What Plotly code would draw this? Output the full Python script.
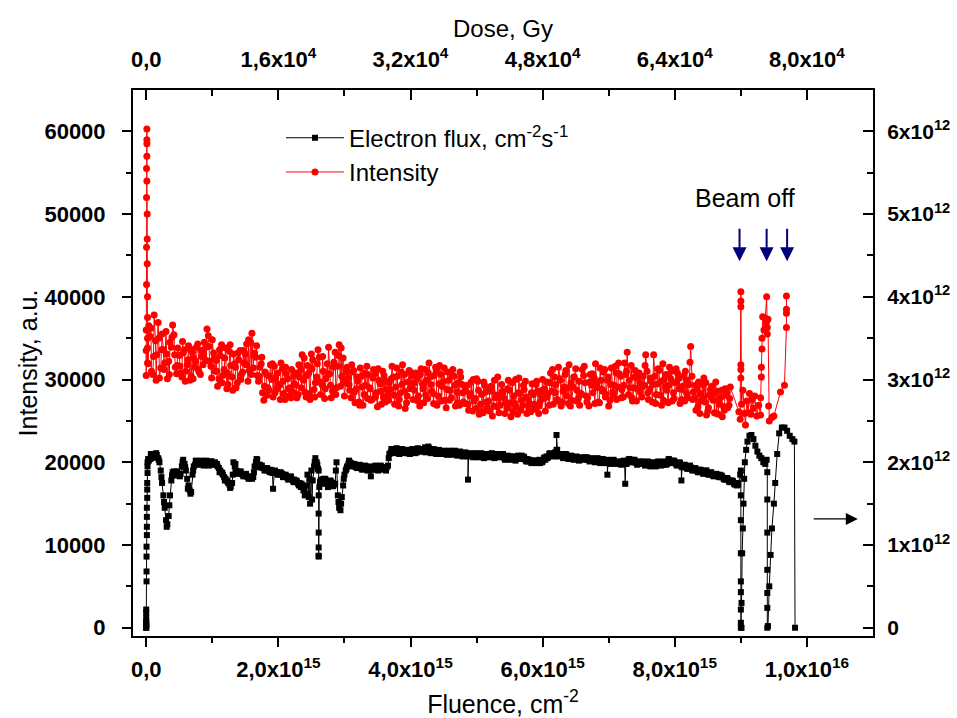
import numpy as np
import plotly.graph_objects as go

# ---------------- DATA (fluence in units of 1e15 cm^-2) ----------------
FLUENCE_STEP_E15 = 0.04        # sampling step of each recorded sub-series
FLUENCE_OFFSET_MAIN_E15 = 0.04
FLUENCE_OFFSET_MID_E15 = 0.02
FLUENCE_OFFSET_LATE_E15 = 0.03

# Intensity (a.u.), left axis
intensity_head_fluence_e15 = [0.0, 0.0, 0.0, 0.005, 0.005, 0.005, 0.005, 0.01, 0.01, 0.01,
                              0.01, 0.01, 0.015, 0.015, 0.015, 0.02, 0.02, 0.02, 0.02]
intensity_head = [33500, 30500, 36000, 41500, 46000, 52000, 55500, 58500, 60300, 59000,
                  57000, 54000, 50000, 47000, 44000, 40000, 37500, 35000, 32000]
# samples at fluence 0.04, 0.08, ... 8.84
intensity_main = [
    36500, 31000, 37800, 33000, 30200, 35500, 32000,
    30100, 34500, 36600, 31500, 33800,
    30800, 33200, 31000, 34100, 30400, 32600, 33900, 30900, 32800,
    34500, 36100, 32200, 34800, 31000,
    29200, 32900, 30500, 33800, 29400, 31700, 33100, 29000, 32400, 30600,
    32000, 34300, 31100, 35600, 33200, 30500,
    31500, 28400, 30900, 29000, 31800, 27900, 30200, 29400, 32000, 28300, 30700, 28000, 31200, 29500, 27800,
    30300, 33000, 28500, 31700, 27600, 32400, 29600, 33600, 28200, 31000, 30100, 33900, 27800, 32100, 29000,
    34200, 30400, 28000, 31500,
    28700, 30900, 27200, 29800, 31400, 26900, 29300, 30600, 27500, 31200, 28400, 29900, 27000, 30500, 28800, 29600,
    31600, 27000, 30400, 28300, 31800, 26500, 29700, 30900, 27600,
    30800, 28000, 31300, 27200, 29900, 32000, 28600, 30500, 26900, 31700, 29200, 27500, 30900, 28700, 31200,
    26800, 29600, 30300, 27300,
    28600, 26300, 29700, 27400, 30100, 25800, 28200, 29300, 26600, 28900, 25600, 27800, 30300, 26900, 28400,
    27200, 29900, 25500, 28000, 26700, 30200, 27500, 28800, 25900, 27100, 29500, 26400, 28600, 27300, 30000, 26200,
    28300, 30800, 27000, 29400, 31500, 26800, 29100, 28000, 31800, 27500, 30300, 28700, 26900, 31200, 29600,
    27800, 30600, 28400, 31900, 27300, 29900, 30900, 28200, 26800, 31400, 29300, 27600, 30700, 28800, 32000,
    33300, 29000, 27400, 31100, 30200, 28500,
    30400, 33000, 27600, 29800, 33000, 28200, 31100, 26900, 30000, 28700, 31500, 27400, 29600, 30800, 27100,
    29200, 31000, 27800, 34000,
    28500, 26300, 29700, 27400, 30200, 25700, 28100, 29200, 26000, 28600, 27000, 25500, 28900, 26600, 29100,
]
# samples at fluence 0.02, 0.06, ... 8.82
intensity_mid = [
    33800, 35200, 30600, 34700, 36900, 31400, 33600,
    35800, 32200, 33900, 35400, 30700,
    32900, 30300, 33600, 31800, 29900, 33300, 31500, 34300, 30600,
    31800, 33900, 35300, 31600, 33200,
    32300, 30100, 34200, 31200, 28900, 33400, 30300, 31900, 29600, 33500,
    30900, 33100, 29800, 34500, 31400, 32700,
    29800, 31900, 27500, 30600, 28700, 30000, 31600, 28900, 29300, 31300, 27600, 30100, 29000, 28500, 30800,
    28200, 31200, 29900, 27900, 30800, 33100, 28800, 30300, 32700, 29400, 27700, 31900, 30700, 28600, 33300,
    31600, 29200, 32600, 29600,
    30200, 27800, 31100, 28900, 27300, 30400, 28200, 31600, 29000, 27600, 30700, 26700, 29500, 31000, 27300, 28100,
    28800, 30300, 29100, 26800, 30900, 28600, 27200, 31100, 29300,
    28700, 30100, 26800, 29500, 31200, 27700, 30300, 28300, 31500, 28000, 30600, 29800, 26600, 29900, 27800,
    30400, 28500, 26900, 29400,
    27100, 29300, 28000, 26200, 27700, 29800, 27000, 26000, 28500, 27400, 29200, 26800, 28100, 26000, 29400,
    27700, 26500, 28700, 29600, 27100, 25800, 28300, 26900, 29800, 27600, 26100, 28200, 29400, 25900, 28000, 27700,
    29700, 26900, 28600, 30300, 27600, 30100, 27300, 30600, 29000, 26800, 29100, 31300, 27700, 28300, 30500,
    28000, 26800, 29300, 30200, 29600, 27200, 28800, 31200, 29900, 27500, 28500, 31600, 29100, 30400, 27900,
    30600, 28200, 31700, 29000, 27400, 30800,
    27900, 29300, 31000, 28800, 27300, 30400, 29500, 28100, 31900, 29100, 27200, 30100, 28400, 31300, 28900,
    27600, 30500, 28300, 29400,
    30400, 27800, 28900, 25900, 29400, 27300, 26200, 28800, 27500, 29700, 25800, 27900, 26700, 28100, 26900,
]
# samples at fluence 0.03, 0.07, ... 8.83
intensity_late = [
    31900, 36200, 32800, 29900, 35000, 33600, 31200,
    33100, 30600, 35100, 33000, 31700,
    31600, 34600, 29800, 32400, 33700, 30100, 32200, 31200, 33500,
    33100, 32300, 34000, 30200, 32600,
    31000, 33600, 29600, 32600, 30800, 34200, 28700, 31500, 33200, 30000,
    33500, 31800, 34800, 30600, 32900, 34100,
    30400, 32700, 29200, 28100, 30400, 31900, 28400, 30800, 27600, 29800, 31500, 28900, 27800, 30500, 29300,
    31800, 29000, 32600, 30500, 28300, 31300, 27900, 31900, 29700, 32800, 28900, 30600, 29300, 31500, 28200,
    32900, 33800, 29900, 30900,
    29400, 31800, 28500, 30300, 26900, 29100, 30800, 27700, 28900, 30200, 27900, 31300, 28600, 27900, 29800, 27500,
    30100, 28100, 31400, 27600, 29400, 30600, 28000, 28900, 30500,
    29600, 27400, 30600, 28900, 28100, 30800, 29400, 27100, 31000, 29500, 27400, 31400, 28800, 27500, 30500,
    29300, 27200, 30900, 28400,
    29200, 27000, 28300, 30000, 26500, 28700, 26100, 29700, 27300, 26200, 28600, 29900, 26700, 27900, 28600,
    25900, 28900, 27200, 26100, 30000, 28400, 26300, 29300, 27900, 26600, 28400, 27000, 29800, 26800, 28700, 28900,
    27900, 29600, 31200, 28400, 27400, 29900, 28600, 31100, 27100, 29600, 30300, 27400, 29800, 28200, 31600,
    27300, 29700, 30700, 27100, 29000, 31400, 28600, 27900, 30300, 29400, 28100, 30800, 32000, 27800, 29300,
    31000, 29900, 27800, 30300, 28900, 29600,
    29100, 31700, 28400, 30200, 29400, 27100, 31300, 29800, 27500, 30600, 29300, 31000, 27700, 29700, 30200,
    28800, 27400, 29900, 32100,
    27600, 29300, 26700, 28300, 27800, 29600, 26600, 27900, 28300, 25900, 27600, 28700, 26300, 28400, 27700,
]
intensity_tail_fluence_e15 = [8.97, 8.99, 9.0, 9.0, 9.0, 9.0, 9.0, 9.0, 9.01, 9.03, 9.05, 9.07, 9.09, 9.11,
                              9.13, 9.15, 9.17, 9.19, 9.21, 9.24, 9.27, 9.30, 9.30, 9.31, 9.31, 9.32, 9.32,
                              9.33, 9.35, 9.37, 9.39, 9.39, 9.40, 9.40, 9.41, 9.42, 9.43, 9.47, 9.50, 9.60,
                              9.66, 9.69, 9.69, 9.69, 9.69]
intensity_tail = [26100, 25200, 40600, 39500, 38800, 31800, 31200, 30200, 27000, 28700, 25900, 24500, 27400,
                  26000, 28300, 25800, 27600, 26500, 28000, 25600, 26900, 25700, 27800, 30300, 31500, 33700,
                  35000, 37600, 36000, 37400, 40000, 37000, 36300, 35500, 37300, 26800, 25000, 25400, 25600,
                  28500, 29300, 36300, 38000, 38500, 40100]

# Electron flux (units of 1e12 cm^-2 s^-1), right axis
flux_head_fluence_e15 = [0.0, 0.0, 0.0, 0.0, 0.0, 0.0, 0.0, 0.0, 0.0, 0.005, 0.005, 0.005, 0.005, 0.01,
                         0.01, 0.01, 0.01, 0.015, 0.015, 0.015, 0.02, 0.02]
flux_head_e12 = [0.05, 0.0, 0.12, 0.02, 0.08, 0.0, 0.18, 0.04, 0.22, 0.56, 0.68, 0.86, 0.98, 1.12,
                 1.22, 1.34, 1.45, 1.57, 1.67, 1.75, 1.87, 1.95]
# samples at fluence 0.04, 0.08, ... 8.96
flux_main_e12 = [
    2.02, 2.05, 2.08, 2.09,
    2.0, 1.75, 1.45, 1.25, 1.6, 1.88,
    1.87, 1.85, 1.86,
    2.03, 1.9, 1.72, 1.64, 1.95,
    1.99, 2.0, 1.98, 2.0, 1.97, 1.99, 1.98, 2.0,
    1.95, 1.9, 1.85, 1.8, 1.75, 1.71,
    2.0, 1.9, 1.87, 1.86, 1.84, 1.83, 1.81, 1.8,
    1.95, 2.03, 1.97,
    1.93, 1.92, 1.9, 1.91, 1.68, 1.88, 1.86, 1.87, 1.84, 1.83, 1.82, 1.8, 1.79, 1.77, 1.75, 1.72,
    1.6, 1.85, 1.5, 1.78, 2.05,
    1.92,
    1.78, 1.8, 1.75, 1.72, 1.76, 1.73,
    2.0, 1.45, 1.58, 1.85,
    1.95, 2.0, 1.97, 1.95, 1.96, 1.94, 1.93, 1.95, 1.92, 1.83, 1.93, 1.91, 1.95, 1.93, 1.92, 1.94,
    2.1, 2.14, 2.13, 2.15, 2.12, 2.14, 2.13, 2.11, 2.14, 2.12, 2.13, 2.15, 2.16, 2.13, 2.14, 2.17,
    2.12, 2.14, 2.13, 2.11, 2.13, 2.12, 2.1, 2.12, 2.11, 2.13, 2.1, 2.11, 2.09, 2.1, 2.08,
    2.08, 2.1, 2.07, 2.09, 2.08, 2.06, 2.09, 2.1, 2.08, 2.07, 2.09, 2.08, 2.1, 2.06, 2.05, 2.07,
    2.04, 2.06, 2.05, 2.08, 2.06, 2.04, 2.03, 2.02, 2.0, 2.01, 1.99, 2.01, 2.03, 2.06, 2.09, 2.08,
    2.09, 2.1, 2.08, 2.07, 2.09, 2.06, 2.07, 2.05, 2.06, 2.04, 2.05, 2.06, 2.03, 2.04, 2.02, 2.03,
    2.04, 2.02, 2.01, 2.02, 2.0, 2.01, 2.02, 1.99, 2.0, 2.01, 1.98, 2.0, 2.02, 2.03, 2.01, 2.0, 1.99,
    1.99, 1.98, 2.0, 1.97, 1.98, 1.96, 1.99, 2.0, 1.97, 1.98, 2.01, 2.02, 2.0, 1.98, 1.99, 1.96,
    1.95, 1.93, 1.94, 1.92, 1.9, 1.91, 1.89, 1.88, 1.9, 1.87, 1.86, 1.85, 1.84, 1.85, 1.82, 1.81,
    1.8, 1.78, 1.77, 1.75, 1.73,
]
# samples at fluence 0.02, 0.06, ... 8.94
flux_mid_e12 = [
    2.0, 2.04, 2.07, 2.08,
    2.05, 1.9, 1.6, 1.3, 1.35, 1.78,
    1.89, 1.86, 1.84,
    1.95, 1.98, 1.8, 1.66, 1.85,
    1.97, 2.01, 1.99, 1.98, 2.0, 1.98, 2.01, 1.99,
    1.97, 1.93, 1.88, 1.82, 1.78, 1.73,
    1.75, 1.95, 1.89, 1.87, 1.85, 1.84, 1.82, 1.81,
    1.82, 2.0, 1.95,
    1.94, 1.93, 1.91, 1.9, 1.9, 1.87, 1.88, 1.85, 1.86, 1.83, 1.81, 1.81, 1.78, 1.76, 1.74, 1.7,
    1.66, 1.72, 1.58, 1.9, 1.95,
    2.0,
    1.7, 1.79, 1.77, 1.74, 1.74, 1.75,
    1.74, 1.6, 1.42, 1.72,
    1.9, 1.98, 1.99, 1.96, 1.94, 1.95, 1.92, 1.94, 1.93, 1.91, 1.94, 1.92, 1.93, 1.94, 1.91, 1.93,
    1.96, 2.12, 2.15, 2.14, 2.13, 2.12, 2.15, 2.13, 2.12, 2.15, 2.14, 2.12, 2.14, 2.15, 2.18, 2.15,
    2.13, 2.12, 2.14, 2.13, 2.12, 2.11, 2.13, 2.11, 2.12, 2.1, 2.12, 2.09, 2.11, 2.09, 2.1,
    2.09, 2.08, 2.09, 2.07, 2.1, 2.08, 2.07, 2.09, 2.09, 2.08, 2.07, 2.09, 2.08, 2.05, 2.06, 2.05,
    2.05, 2.04, 2.07, 2.07, 2.05, 2.03, 2.01, 2.01, 2.0, 2.02, 2.0, 2.02, 2.05, 2.07, 2.1, 2.09,
    2.1, 2.09, 2.09, 2.08, 2.08, 2.07, 2.06, 2.06, 2.05, 2.05, 2.04, 2.05, 2.04, 2.03, 2.03, 2.02,
    2.03, 2.01, 2.02, 2.01, 2.01, 2.0, 2.01, 2.0, 1.99, 2.0, 1.99, 2.01, 2.03, 2.02, 2.0, 1.99, 2.0,
    1.98, 2.0, 1.99, 1.98, 1.97, 1.98, 2.0, 1.98, 1.99, 2.0, 2.02, 2.01, 1.99, 1.98, 1.97, 1.95,
    1.94, 1.94, 1.93, 1.91, 1.91, 1.9, 1.88, 1.89, 1.88, 1.86, 1.85, 1.84, 1.85, 1.83, 1.82, 1.8,
    1.79, 1.77, 1.76, 1.74, 1.72,
]
# samples at fluence 0.03, 0.07, ... 8.95
flux_late_e12 = [
    2.04, 2.1, 2.06, 2.11,
    2.03, 1.82, 1.52, 1.22, 1.48, 1.84,
    1.84, 1.89, 1.83,
    2.0, 1.94, 1.68, 1.62, 1.9,
    2.02, 1.97, 2.02, 1.96, 2.02, 1.96, 2.01, 1.97,
    1.98, 1.88, 1.87, 1.78, 1.77, 1.69,
    1.85, 1.98, 1.86, 1.89, 1.83, 1.86, 1.8, 1.83,
    1.88, 2.04, 1.94,
    1.96, 1.9, 1.93, 1.88, 1.87, 1.9, 1.85, 1.88, 1.82, 1.85, 1.79, 1.83, 1.76, 1.78, 1.72, 1.74,
    1.7, 1.62, 1.8, 1.55, 2.0,
    1.97,
    1.76, 1.74, 1.8, 1.7, 1.78, 1.71,
    1.9, 1.52, 1.5, 1.8,
    1.92, 2.02, 1.95, 1.98, 1.93, 1.97, 1.91, 1.96, 1.9, 1.95, 1.91, 1.96, 1.9, 1.96, 1.94, 1.9,
    2.05, 2.16, 2.11, 2.17, 2.1, 2.16, 2.11, 2.15, 2.1, 2.16, 2.11, 2.17, 2.13, 2.16, 2.12, 2.19,
    2.11, 2.16, 2.1, 2.15, 2.1, 2.14, 2.09, 2.14, 2.09, 2.14, 2.08, 2.13, 2.07, 2.12, 2.07,
    2.11, 2.06, 2.11, 2.06, 2.11, 2.05, 2.1, 2.06, 2.11, 2.05, 2.1, 2.06, 2.1, 2.03, 2.08, 2.03,
    2.07, 2.02, 2.08, 2.04, 2.07, 2.01, 2.03, 1.99, 2.02, 1.99, 2.03, 2.0, 2.06, 2.05, 2.11, 2.07,
    2.12, 2.07, 2.1, 2.05, 2.1, 2.04, 2.08, 2.03, 2.07, 2.02, 2.06, 2.03, 2.06, 2.01, 2.05, 2.0,
    2.05, 1.99, 2.04, 1.99, 2.03, 1.98, 2.03, 1.98, 2.01, 1.97, 2.02, 1.98, 2.04, 2.0, 2.03, 1.97, 2.01,
    2.01, 1.96, 2.01, 1.95, 2.0, 1.95, 2.01, 1.96, 2.01, 1.97, 2.04, 1.99, 2.02, 1.96, 2.0, 1.94,
    1.97, 1.92, 1.96, 1.9, 1.93, 1.88, 1.91, 1.86, 1.9, 1.85, 1.88, 1.83, 1.86, 1.82, 1.84, 1.79,
    1.81, 1.76, 1.78, 1.73, 1.75,
]
flux_extra_fluence_e15 = [2.61, 2.61, 2.61, 2.61, 2.61, 2.61, 2.61, 4.87, 6.21, 6.21, 6.22, 6.98, 7.25, 8.10]
flux_extra_e12 = [1.9, 1.6, 1.38, 1.15, 0.97, 0.87, 0.86, 1.79, 2.15, 2.33, 2.15, 1.85, 1.74, 1.78]
flux_tail_fluence_e15 = [8.99, 9.0, 9.0, 9.0, 9.0, 9.0, 9.0, 9.0, 9.0, 9.0, 9.01, 9.01, 9.02, 9.03,
                         9.04, 9.05, 9.06, 9.08, 9.10, 9.13, 9.16, 9.19, 9.22, 9.25, 9.28, 9.31, 9.34,
                         9.37, 9.39, 9.40, 9.40, 9.40, 9.40, 9.40, 9.40, 9.40, 9.41, 9.43, 9.45, 9.47,
                         9.50, 9.52, 9.55, 9.58, 9.62, 9.66, 9.70, 9.74, 9.78, 9.81, 9.82]
flux_tail_e12 = [1.85, 1.9, 1.6, 1.3, 0.9, 0.56, 0.43, 0.22, 0.06, 0.0, 0.0, 0.3, 0.9, 1.2,
                 1.5, 1.8, 2.0, 2.15, 2.25, 2.32, 2.33, 2.28, 2.2, 2.13, 2.08, 2.05, 2.0,
                 1.98, 2.03, 1.88, 1.55, 1.15, 0.7, 0.42, 0.24, 0.0, 0.02, 0.5, 0.88, 1.2,
                 1.5, 1.75, 2.1, 2.35, 2.42, 2.42, 2.38, 2.32, 2.28, 2.25, 0.0]

# Axis ticks / labels
fluence_tickvals = [0, 2e15, 4e15, 6e15, 8e15, 1e16]
fluence_ticktext = ["0,0", "2,0x10<sup>15</sup>", "4,0x10<sup>15</sup>", "6,0x10<sup>15</sup>",
                    "8,0x10<sup>15</sup>", "1,0x10<sup>16</sup>"]
fluence_minor = [1e15, 3e15, 5e15, 7e15, 9e15]
dose_tickvals = [0, 16000, 32000, 48000, 64000, 80000]
dose_ticktext = ["0,0", "1,6x10<sup>4</sup>", "3,2x10<sup>4</sup>", "4,8x10<sup>4</sup>",
                 "6,4x10<sup>4</sup>", "8,0x10<sup>4</sup>"]
dose_minor = [8000, 24000, 40000, 56000, 72000]
intensity_tickvals = [0, 10000, 20000, 30000, 40000, 50000, 60000]
intensity_ticktext = ["0", "10000", "20000", "30000", "40000", "50000", "60000"]
intensity_minor = [5000, 15000, 25000, 35000, 45000, 55000]
flux_tickvals = [0, 1e12, 2e12, 3e12, 4e12, 5e12, 6e12]
flux_ticktext = ["0", "1x10<sup>12</sup>", "2x10<sup>12</sup>", "3x10<sup>12</sup>",
                 "4x10<sup>12</sup>", "5x10<sup>12</sup>", "6x10<sup>12</sup>"]
flux_minor = [0.5e12, 1.5e12, 2.5e12, 3.5e12, 4.5e12, 5.5e12]

beam_off_fluence_e15 = [8.98, 9.39, 9.70]

# ---------------- assemble series ----------------
E15, E12 = 1e15, 1e12


def grid(values, offset):
    return offset + np.arange(len(values)) * FLUENCE_STEP_E15


ix = np.concatenate([intensity_head_fluence_e15,
                     grid(intensity_main, FLUENCE_OFFSET_MAIN_E15),
                     grid(intensity_mid, FLUENCE_OFFSET_MID_E15),
                     grid(intensity_late, FLUENCE_OFFSET_LATE_E15)])
iy = np.concatenate([intensity_head, intensity_main, intensity_mid, intensity_late]).astype(float)
o = np.argsort(ix, kind="mergesort")
int_x = np.concatenate([ix[o], intensity_tail_fluence_e15]) * E15
int_y = np.concatenate([iy[o], intensity_tail])

fx = np.concatenate([flux_head_fluence_e15,
                     grid(flux_main_e12, FLUENCE_OFFSET_MAIN_E15),
                     grid(flux_mid_e12, FLUENCE_OFFSET_MID_E15),
                     grid(flux_late_e12, FLUENCE_OFFSET_LATE_E15),
                     flux_extra_fluence_e15])
fy = np.concatenate([flux_head_e12, flux_main_e12, flux_mid_e12, flux_late_e12, flux_extra_e12])
o = np.argsort(fx, kind="mergesort")
flux_x = np.concatenate([fx[o], flux_tail_fluence_e15]) * E15
flux_y = np.concatenate([fy[o], flux_tail_e12]) * E12

FONT = "Liberation Sans"
TITLE_SIZE = 25


def bold(lst):
    return ["<b>%s</b>" % t for t in lst]


fig = go.Figure()
fig.add_trace(go.Scatter(x=flux_x, y=flux_y, xaxis="x", yaxis="y2", mode="lines+markers",
                         name="Electron flux, cm<sup>-2</sup>s<sup>-1</sup>",
                         line=dict(color="black", width=1),
                         marker=dict(symbol="square", size=6, color="black")))
fig.add_trace(go.Scatter(x=int_x, y=int_y, xaxis="x", yaxis="y", mode="lines+markers",
                         name="Intensity",
                         line=dict(color="red", width=1),
                         marker=dict(symbol="circle", size=7, color="red")))
fig.add_trace(go.Scatter(x=[None], y=[None], xaxis="x2", yaxis="y", showlegend=False,
                         hoverinfo="skip"))

axis_common = dict(showline=True, linewidth=2, linecolor="black", showgrid=False, zeroline=False,
                   tickmode="array", tickwidth=2, tickcolor="black", automargin=False)


def minor(vals, ticks, length):
    return dict(tickvals=vals, ticks=ticks, ticklen=length, tickwidth=2, tickcolor="black")


fig.update_layout(
    width=957, height=718,
    margin=dict(l=133, r=84, t=90, b=82),
    plot_bgcolor="white", paper_bgcolor="white",
    font=dict(family=FONT, color="black"),
    xaxis=dict(range=[-0.2e15, 11.0e15], tickvals=fluence_tickvals, ticktext=bold(fluence_ticktext),
               ticks="outside", ticklen=9, ticklabelstandoff=4,
               tickfont=dict(family=FONT, size=22, color="black"),
               minor=minor(fluence_minor, "outside", 5),
               title=dict(text="Fluence, cm<sup>-2</sup>", font=dict(family=FONT, size=TITLE_SIZE),
                          standoff=14),
               **axis_common),
    xaxis2=dict(overlaying="x", side="top", anchor="y", range=[-1600, 88000],
                tickvals=dose_tickvals, ticktext=bold(dose_ticktext), ticks="inside", ticklen=10,
                ticklabelstandoff=12, tickfont=dict(family=FONT, size=22, color="black"),
                minor=minor(dose_minor, "inside", 6),
                title=dict(text="Dose, Gy", font=dict(family=FONT, size=24), standoff=0),
                **axis_common),
    yaxis=dict(range=[-1000, 65000], tickvals=intensity_tickvals, ticktext=bold(intensity_ticktext),
               ticks="outside", ticklen=9, ticklabelstandoff=12,
               tickfont=dict(family=FONT, size=22, color="black"),
               minor=minor(intensity_minor, "outside", 5),
               title=dict(text="Intensity, a.u.", font=dict(family=FONT, size=TITLE_SIZE), standoff=0),
               **axis_common),
    yaxis2=dict(overlaying="y", side="right", anchor="x", range=[-1e11, 6.5e12],
                tickvals=flux_tickvals, ticktext=bold(flux_ticktext), ticks="inside", ticklen=10,
                ticklabelstandoff=8, tickfont=dict(family=FONT, size=21, color="black"),
                minor=minor(flux_minor, "inside", 6),
                **axis_common),
    legend=dict(x=0.2, y=0.953, xanchor="left", yanchor="top", bgcolor="rgba(0,0,0,0)",
                font=dict(family=FONT, size=24, color="black"), tracegroupgap=0,
                itemwidth=58),
    showlegend=True,
)

# "Beam off" label and arrows
fig.add_annotation(x=9.06e15, y=52000, xref="x", yref="y", text="Beam off", showarrow=False,
                   font=dict(family=FONT, size=TITLE_SIZE, color="black"))
for bf in beam_off_fluence_e15:
    fig.add_annotation(x=bf * E15, y=44300, ax=bf * E15, ay=48400, xref="x", yref="y",
                       axref="x", ayref="y", text="", showarrow=True, arrowhead=2,
                       arrowsize=1.4, arrowwidth=2, arrowcolor="#00007f")
# arrow indicating that the flux curve belongs to the right axis
fig.add_annotation(x=10.77e15, y=13150, ax=10.08e15, ay=13150, xref="x", yref="y",
                   axref="x", ayref="y", text="", showarrow=True, arrowhead=2,
                   arrowsize=2, arrowwidth=1.2, arrowcolor="black")

# remove the default page margin so the figure sits at the window's top-left corner
fig.write_html("out.html", config={"displayModeBar": False},
               post_script="document.body.style.margin='0px';")
